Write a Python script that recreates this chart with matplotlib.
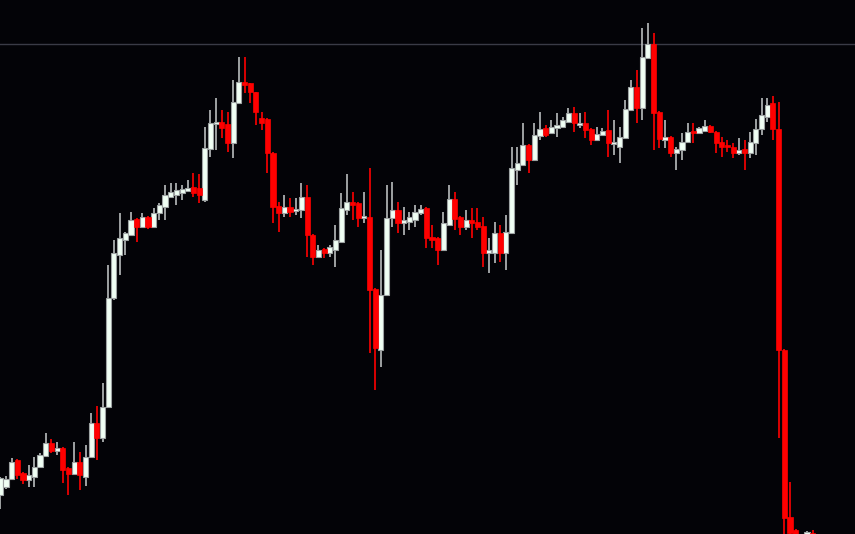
import numpy as np
import matplotlib
matplotlib.use("Agg")
import matplotlib.pyplot as plt

# OHLC data (arbitrary price units)
opens = [105, 113, 121, 140, 127, 120, 123, 133, 144, 157, 149, 152, 132, 126, 138, 123, 143, 177, 162, 193,
         302, 345, 360, 365, 381, 373, 383, 373, 387, 393, 403, 405, 407, 409, 413, 412, 400, 451, 476, 478,
         476, 457, 497, 518, 517, 508, 482, 481, 447, 394, 387, 393, 389, 390, 403, 365, 343, 351, 347, 350,
         358, 390, 398, 397, 382, 383, 311, 250, 305, 382, 390, 377, 378, 380, 387, 392, 363, 362, 350, 375,
         401, 383, 373, 380, 378, 374, 347, 347, 367, 347, 367, 430, 435, 455, 440, 464, 472, 467, 472, 473,
         478, 487, 475, 477, 471, 460, 465, 470, 456, 453, 462, 490, 513, 492, 542, 556, 488, 460, 463, 447,
         450, 458, 468, 467, 469, 474, 468, 458, 455, 453, 447, 451, 447, 457, 471, 483, 497, 471, 250, 83,
         70, 64, 60, 67]
highs = [123, 124, 142, 141, 128, 135, 143, 147, 167, 161, 158, 153, 133, 158, 148, 155, 187, 194, 217, 335,
         360, 387, 368, 388, 382, 387, 384, 392, 397, 415, 417, 417, 415, 420, 427, 426, 473, 490, 502, 490,
         488, 520, 543, 543, 517, 508, 488, 482, 448, 398, 405, 402, 402, 417, 415, 366, 355, 352, 355, 375,
         407, 426, 408, 398, 408, 432, 312, 350, 415, 418, 398, 393, 388, 395, 395, 393, 375, 363, 388, 415,
         408, 384, 390, 392, 392, 383, 362, 378, 375, 385, 453, 453, 477, 456, 477, 488, 475, 480, 487, 483,
         492, 493, 487, 488, 472, 473, 472, 490, 480, 473, 500, 520, 530, 572, 577, 567, 489, 480, 464, 453,
         467, 477, 477, 473, 480, 475, 469, 463, 460, 457, 462, 460, 468, 481, 502, 502, 504, 498, 251, 118,
         71, 66, 69, 70]
lows = [91, 111, 120, 121, 116, 113, 113, 132, 143, 147, 145, 117, 105, 125, 110, 114, 142, 140, 158, 192,
        300, 325, 345, 364, 358, 372, 371, 372, 380, 380, 402, 395, 400, 408, 403, 397, 398, 443, 450, 462,
        448, 442, 496, 507, 497, 475, 470, 427, 377, 368, 383, 383, 385, 382, 343, 335, 342, 342, 343, 333,
        357, 385, 380, 373, 377, 247, 210, 233, 304, 373, 367, 365, 370, 373, 385, 352, 352, 335, 349, 374,
        370, 365, 370, 362, 370, 333, 327, 337, 338, 330, 366, 415, 434, 427, 439, 460, 463, 466, 463, 472,
        477, 468, 472, 462, 455, 459, 464, 443, 445, 437, 461, 489, 477, 480, 541, 450, 452, 452, 443, 430,
        440, 457, 457, 466, 468, 467, 447, 443, 448, 442, 445, 430, 442, 445, 465, 478, 460, 162, 60, 55,
        55, 52, 58, 56]
closes = [122, 121, 138, 125, 120, 125, 133, 145, 157, 149, 152, 130, 126, 138, 125, 143, 177, 162, 193, 302,
          347, 362, 367, 380, 373, 383, 373, 387, 395, 405, 408, 410, 411, 412, 407, 405, 452, 477, 478, 472,
          457, 498, 518, 515, 508, 488, 477, 447, 393, 387, 393, 388, 391, 403, 365, 343, 350, 347, 353, 360,
          392, 398, 395, 382, 384, 310, 252, 305, 382, 390, 377, 380, 383, 388, 391, 362, 360, 350, 377, 401,
          381, 373, 380, 377, 373, 347, 350, 367, 347, 368, 432, 437, 455, 440, 465, 471, 465, 473, 475, 480,
          487, 477, 477, 470, 460, 466, 469, 457, 457, 463, 491, 513, 492, 543, 556, 487, 461, 463, 447, 451,
          458, 468, 467, 472, 474, 468, 457, 453, 453, 447, 450, 447, 458, 471, 485, 495, 471, 250, 82, 67,
          60, 55, 68, 60]
level = 556  # horizontal price line

o = np.array(opens, dtype=float)
h = np.array(highs, dtype=float)
l = np.array(lows, dtype=float)
c = np.array(closes, dtype=float)
x = np.arange(len(o))
up = c >= o

bg = "#030307"
fig = plt.figure(figsize=(8.55, 5.34), dpi=100, facecolor=bg)
ax = fig.add_axes([0, 0, 1, 1])
ax.set_facecolor(bg)

ax.axhline(level, color="#3a3b46", linewidth=1.0, zorder=1)

# wicks
ax.vlines(x[up], l[up], h[up], color="#b9bdbd", linewidth=1.2, zorder=2)
ax.vlines(x[~up], l[~up], h[~up], color="#ff0000", linewidth=1.2, zorder=2)

# bodies
bottom = np.minimum(o, c)
height = np.maximum(np.abs(c - o), 1.8)
ax.bar(x[up], height[up], bottom=bottom[up], width=0.9, color="#f0fff4",
       edgecolor="#9ea3a3", linewidth=0.8, zorder=3)
ax.bar(x[~up], height[~up], bottom=bottom[~up], width=0.9, color="#ff0000",
       edgecolor="#ff0000", linewidth=0.5, zorder=3)

ax.set_xlim(-0.05, 150.45)
ax.set_ylim(66, 600)
ax.axis("off")

fig.savefig("out.png", dpi=100, facecolor=bg)
